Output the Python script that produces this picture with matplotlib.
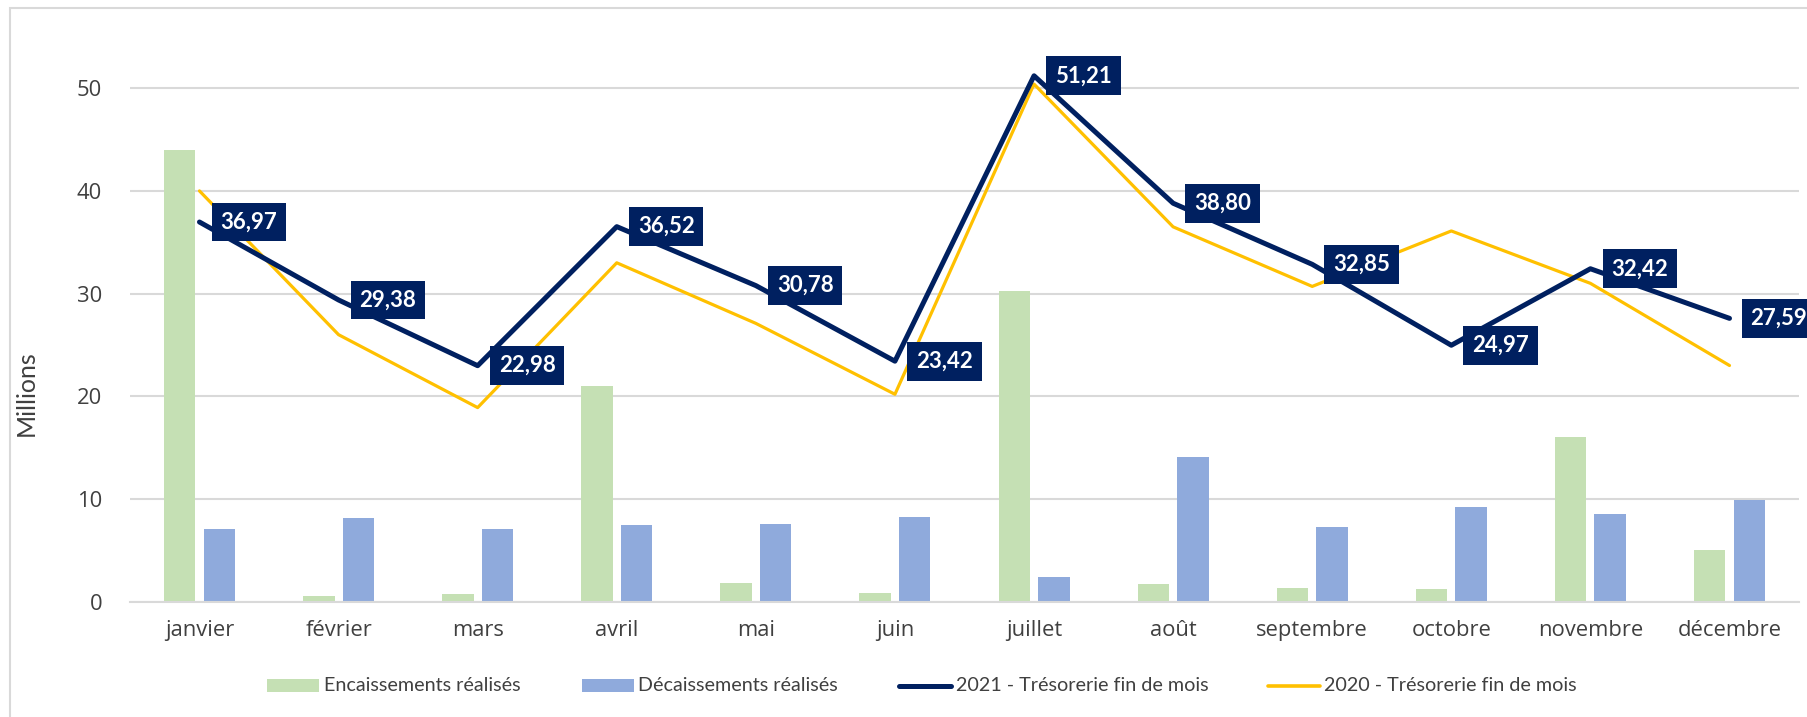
import numpy as np
import matplotlib.pyplot as plt
from matplotlib.patches import Rectangle
from matplotlib.lines import Line2D

mois = ['janvier', 'février', 'mars', 'avril', 'mai', 'juin', 'juillet',
        'août', 'septembre', 'octobre', 'novembre', 'décembre']
encaissements = [44.0, 0.6, 0.75, 21.0, 1.85, 0.8, 30.3, 1.7, 1.3, 1.2, 16.0, 5.0]
decaissements = [7.1, 8.15, 7.1, 7.45, 7.6, 8.2, 2.45, 14.1, 7.25, 9.2, 8.55, 9.9]
treso_2021 = [36.97, 29.38, 22.98, 36.52, 30.78, 23.42, 51.21, 38.80, 32.85, 24.97, 32.42, 27.59]
treso_2020 = [40.0, 26.0, 18.9, 33.0, 27.1, 20.2, 50.4, 36.5, 30.7, 36.1, 31.0, 23.0]

vert = '#C5E0B4'
bleu = '#8FAADC'
marine = '#002060'
jaune = '#FFC000'
gris = '#D9D9D9'
texte = '#404040'

fig = plt.figure(figsize=(18.07, 7.17), dpi=100)
ax = fig.add_axes([0.0719, 0.1608, 0.9237, 0.7878])

x = np.arange(len(mois))
w = 0.226
ax.bar(x - 0.142, encaissements, w, color=vert, zorder=2)
ax.bar(x + 0.142, decaissements, w, color=bleu, zorder=2)

ax.plot(x, treso_2020, color=jaune, lw=2.3, zorder=3, clip_on=False,
        solid_joinstyle='round', solid_capstyle='round')
ax.plot(x, treso_2021, color=marine, lw=3.6, zorder=4, clip_on=False,
        solid_joinstyle='round', solid_capstyle='round')

# value boxes for 2021
for xi, v in zip(x, treso_2021):
    ax.annotate(f'{v:.2f}'.replace('.', ','), (xi, v), xytext=(21, 0),
                textcoords='offset pixels', ha='left', va='center',
                fontsize=16, fontweight='bold', family='Lato', color='white',
                zorder=6, annotation_clip=False,
                bbox=dict(boxstyle='square,pad=0.4', fc=marine, ec='none'))

ax.set_xlim(-0.5, 11.5)
ax.set_ylim(0, 55)
ax.set_yticks([0, 10, 20, 30, 40, 50])
ax.set_xticks(x)
ax.set_xticklabels(mois, family='Open Sans', fontsize=15.8, color=texte)
for lab in ax.get_yticklabels():
    lab.set_family('Open Sans')
    lab.set_fontsize(15.8)
    lab.set_color(texte)
ax.tick_params(axis='both', length=0)
ax.tick_params(axis='x', pad=13)
ax.tick_params(axis='y', pad=20)
ax.grid(axis='y', color=gris, lw=1.5, zorder=0)
ax.set_axisbelow(True)
for s in ['top', 'right', 'left']:
    ax.spines[s].set_visible(False)
ax.spines['bottom'].set_color(gris)
ax.spines['bottom'].set_linewidth(1.5)

ax.set_ylabel('Millions', family='Lato', fontsize=18, color=texte)
ax.yaxis.set_label_coords(-0.0551, 0.369)

# legend drawn by hand along the bottom
W, H = 1807, 717
ly = 1 - 685.5 / H
items = [
    ('patch', vert, 267, 324, 'Encaissements réalisés'),
    ('patch', bleu, 582, 638, 'Décaissements réalisés'),
    ('line', marine, 899, 956, '2021 - Trésorerie fin de mois'),
    ('line', jaune, 1268, 1324, '2020 - Trésorerie fin de mois'),
]
for kind, col, x0, xt, lab in items:
    if kind == 'patch':
        fig.add_artist(Rectangle((x0 / W, ly - 6.5 / H), 52 / W, 13 / H,
                                 transform=fig.transFigure, fc=col, ec='none'))
    else:
        lw = 3.6 if col == marine else 2.6
        fig.add_artist(Line2D([x0 / W, (x0 + 52) / W], [ly, ly], color=col,
                              lw=lw, solid_capstyle='round',
                              transform=fig.transFigure))
    fig.text(xt / W, ly, lab, family='Lato', fontsize=14.2, color=texte,
             ha='left', va='center')

# outer frame
fig.add_artist(Rectangle((10 / W, -0.1), 1.2, 1.1 - 8 / H,
                         transform=fig.transFigure, fill=False, ec=gris, lw=1.5))

fig.savefig('out.png', dpi=100)
